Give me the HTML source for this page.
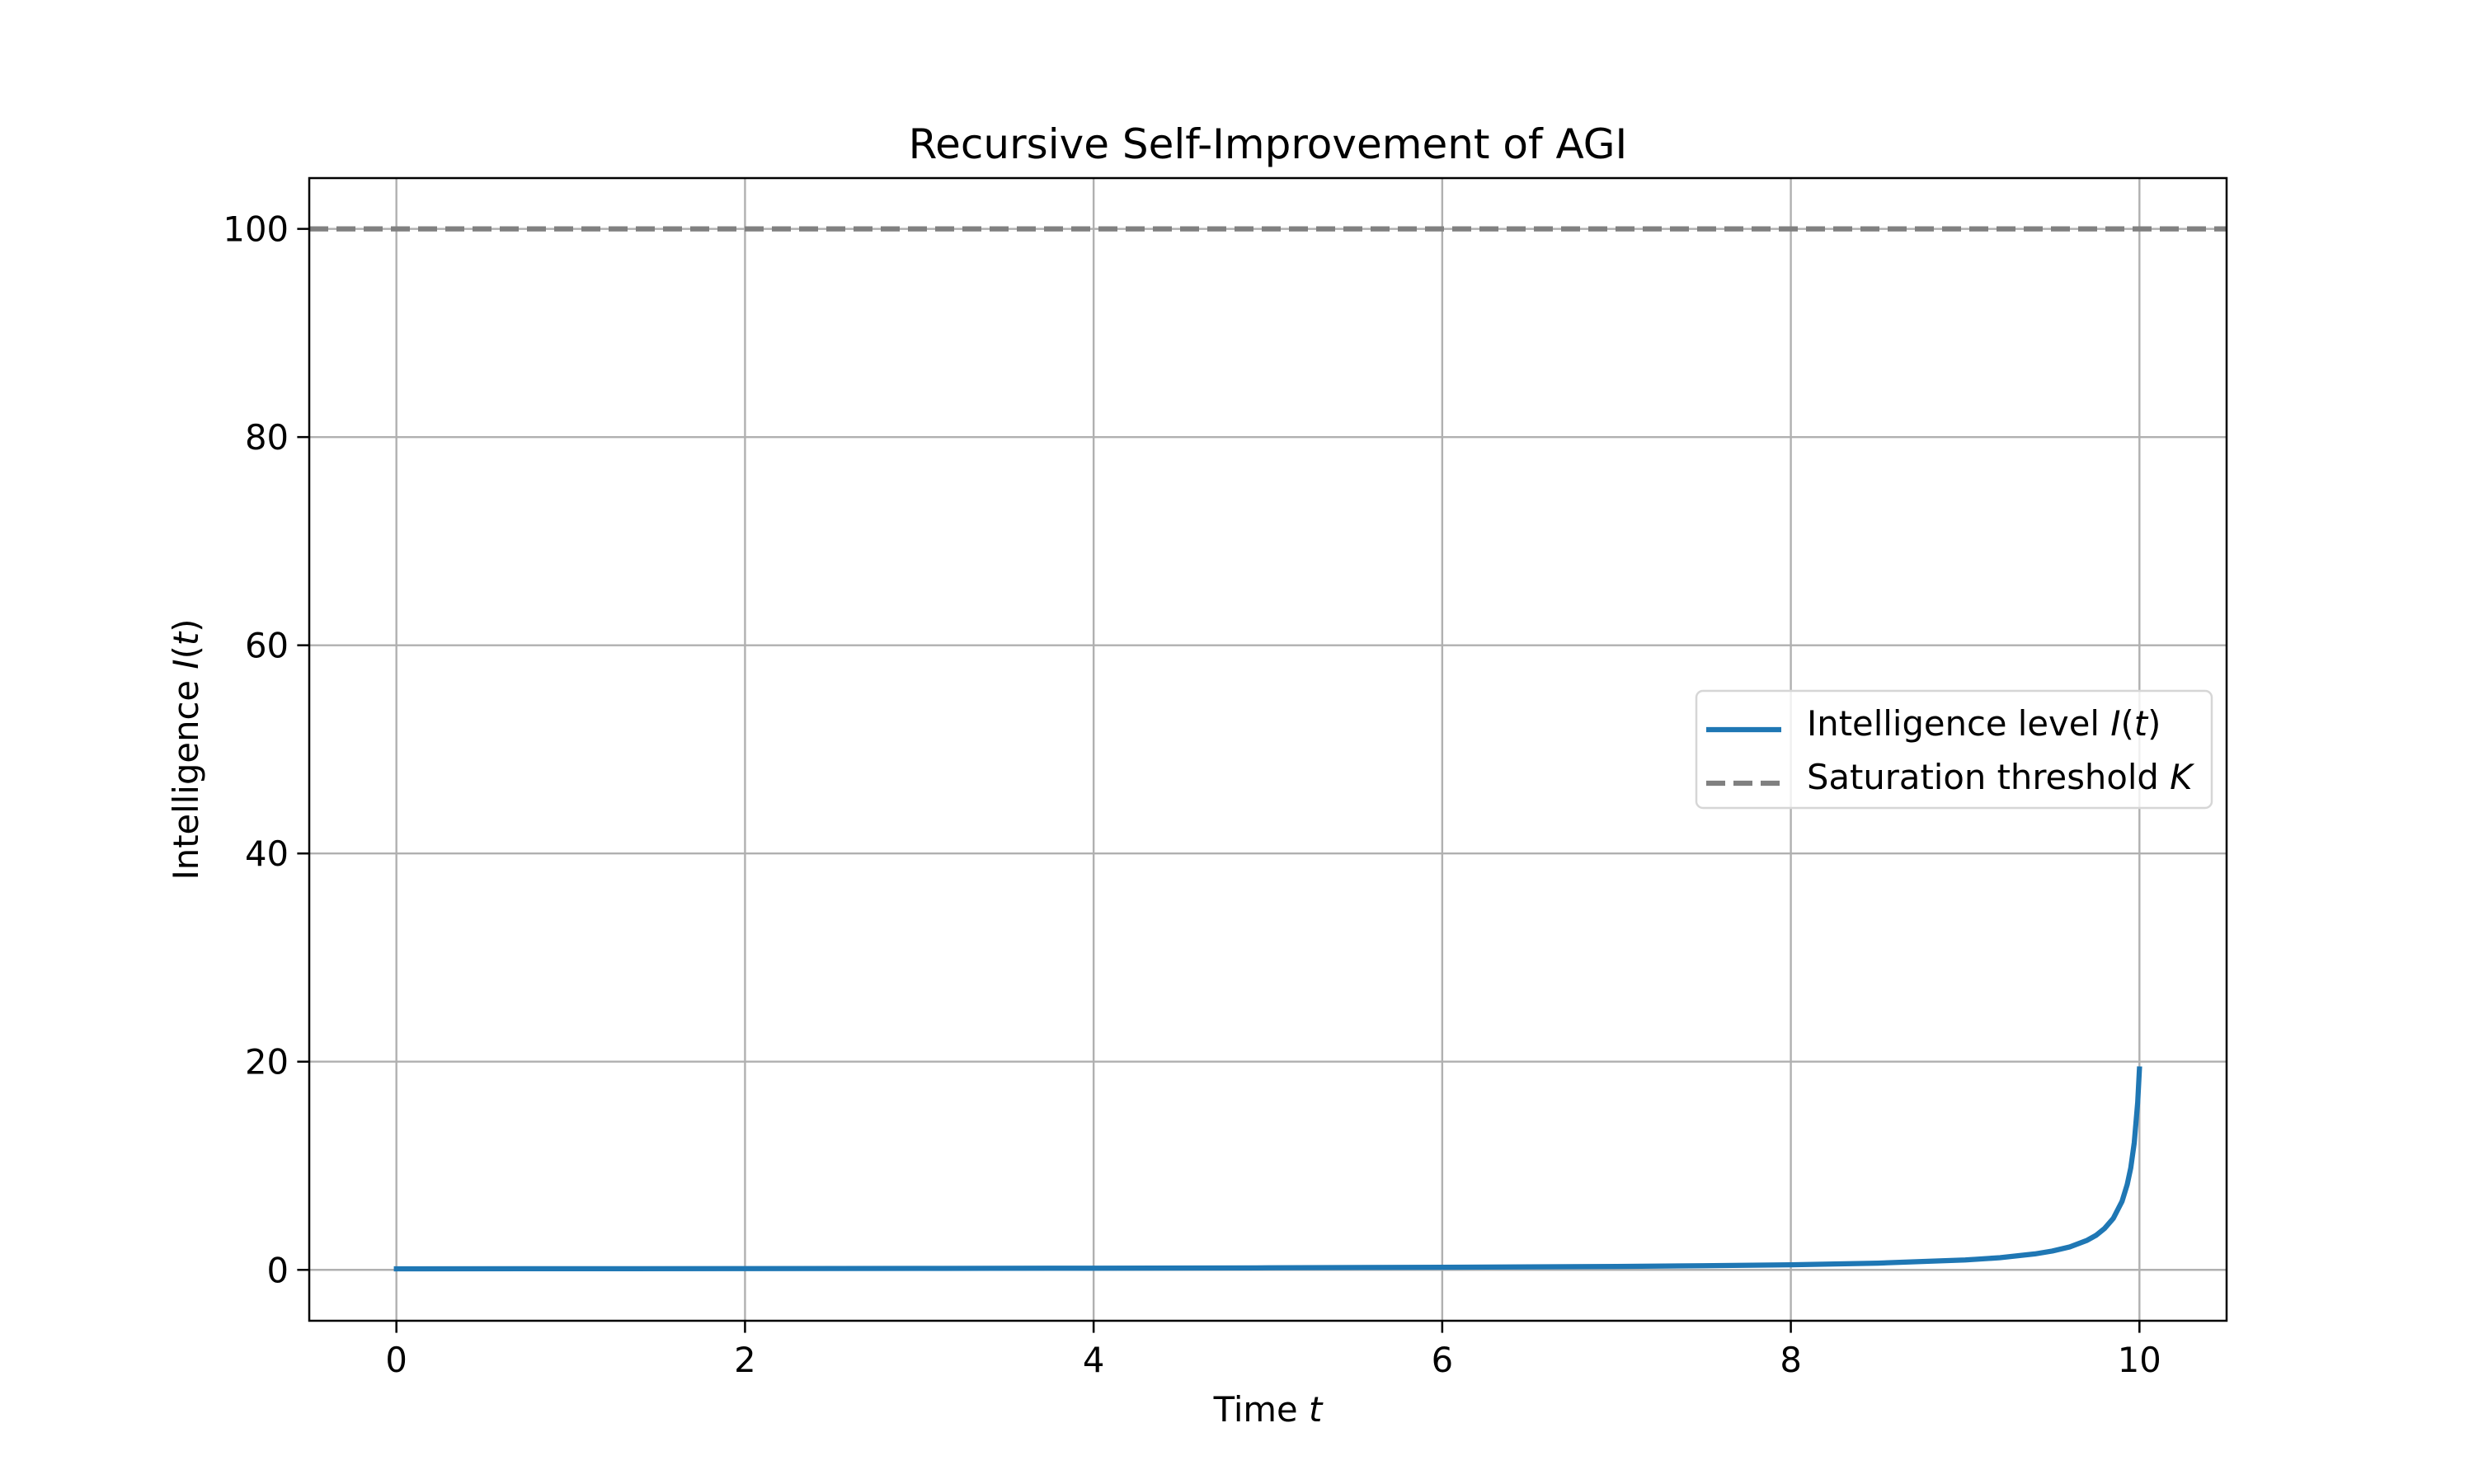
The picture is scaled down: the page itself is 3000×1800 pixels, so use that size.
<!DOCTYPE html>
<html><head><meta charset="utf-8"><style>
html,body{margin:0;padding:0;background:#fff}
svg{display:block;font-family:"DejaVu Sans","Liberation Sans",sans-serif}
</style></head><body>
<svg id="chart" width="3000" height="1800" viewBox="0 0 3000 1800">
<rect width="3000" height="1800" fill="#fff"/>
<g id="grid"></g>
<g id="plot"></g>
<rect x="375" y="216" width="2325" height="1386" fill="none" stroke="#000" stroke-width="2.5"/>
<g id="ticks"></g>
<text x="1537.5" y="192" font-size="50" text-anchor="middle">Recursive Self-Improvement of AGI</text>
<text x="1537.5" y="1724" font-size="41.7" text-anchor="middle">Time <tspan font-style="italic">t</tspan></text>
<text transform="translate(240,909) rotate(-90)" font-size="41.7" text-anchor="middle">Intelligence <tspan font-style="italic">I</tspan>(<tspan font-style="italic">t</tspan>)</text>
<g>
<rect x="2057" y="838" width="625" height="142" rx="8" fill="#fff" fill-opacity="0.8" stroke="#d6d6d6" stroke-width="2.5"/>
<line x1="2069" y1="885" x2="2160" y2="885" stroke="#1f77b4" stroke-width="6.25"/>
<text x="2191" y="892" font-size="41.7">Intelligence level <tspan font-style="italic">I</tspan>(<tspan font-style="italic">t</tspan>)</text>
<line x1="2069" y1="950" x2="2160" y2="950" stroke="#808080" stroke-width="6.25" stroke-dasharray="23,10"/>
<text x="2191" y="957" font-size="41.7">Saturation threshold <tspan font-style="italic">K</tspan></text>
</g>
</svg>
<script>
const tValues=[0,1,2,3,4,5,6,7,7.5,8,8.5,9,9.2,9.4,9.5,9.6,9.7,9.75,9.8,9.85,9.9,9.93,9.95,9.97,9.99,10];
const iValues=[0.1,0.11,0.124,0.142,0.165,0.198,0.247,0.328,0.392,0.487,0.644,0.95,1.17,1.53,1.81,2.21,2.84,3.31,3.97,4.95,6.58,8.2,9.8,12.2,16.1,19.3];
const thresholdK=100;
const xTicks=[0,2,4,6,8,10];
const yTicks=[0,20,40,60,80,100];
const X0=375,X1=2700,Y0=1602,Y1=216,xmin=-0.5,xmax=10.5,ymin=-4.89,ymax=104.88;
const sx=v=>X0+(v-xmin)/(xmax-xmin)*(X1-X0);
const sy=v=>Y0-(v-ymin)/(ymax-ymin)*(Y0-Y1);
const NS="http://www.w3.org/2000/svg";
const grid=document.getElementById('grid'),ticks=document.getElementById('ticks'),plot=document.getElementById('plot');
function mk(tag,attrs,parent){const e=document.createElementNS(NS,tag);for(const k in attrs)e.setAttribute(k,attrs[k]);parent.appendChild(e);return e;}
xTicks.forEach(v=>{
 const g=mk('line',{x1:sx(v),x2:sx(v),y1:Y1,y2:Y0,stroke:'#b0b0b0','stroke-width':2.4},grid);
 
 
 const t=mk('line',{x1:sx(v),x2:sx(v),y1:Y0,y2:Y0+14.6,stroke:'#000','stroke-width':2.5},ticks);
 
 
 const l=mk('text',{x:sx(v),y:Y0+62,'font-size':41.7,'text-anchor':'middle'},ticks);
 
 
 l.textContent=v;
});
yTicks.forEach(v=>{
 const g=mk('line',{x1:X0,x2:X1,y1:sy(v),y2:sy(v),stroke:'#b0b0b0','stroke-width':2.4},grid);
 
 
 const t=mk('line',{x1:X0-14.6,x2:X0,y1:sy(v),y2:sy(v),stroke:'#000','stroke-width':2.5},ticks);
 
 
 const l=mk('text',{x:X0-25,y:sy(v)+15,'font-size':41.7,'text-anchor':'end'},ticks);
 
 
 l.textContent=v;
});
const k=mk('line',{x1:X0,x2:X1,y1:sy(thresholdK),y2:sy(thresholdK),stroke:'#808080','stroke-width':6.25,'stroke-dasharray':'23,10'},plot);


const p=mk('path',{d:tValues.map((t,i)=>(i?'L':'M')+sx(t).toFixed(1)+','+sy(iValues[i]).toFixed(1)).join(''),fill:'none',stroke:'#1f77b4','stroke-width':6.25,'stroke-linejoin':'round','stroke-linecap':'square'},plot);


</script>
</body></html>
